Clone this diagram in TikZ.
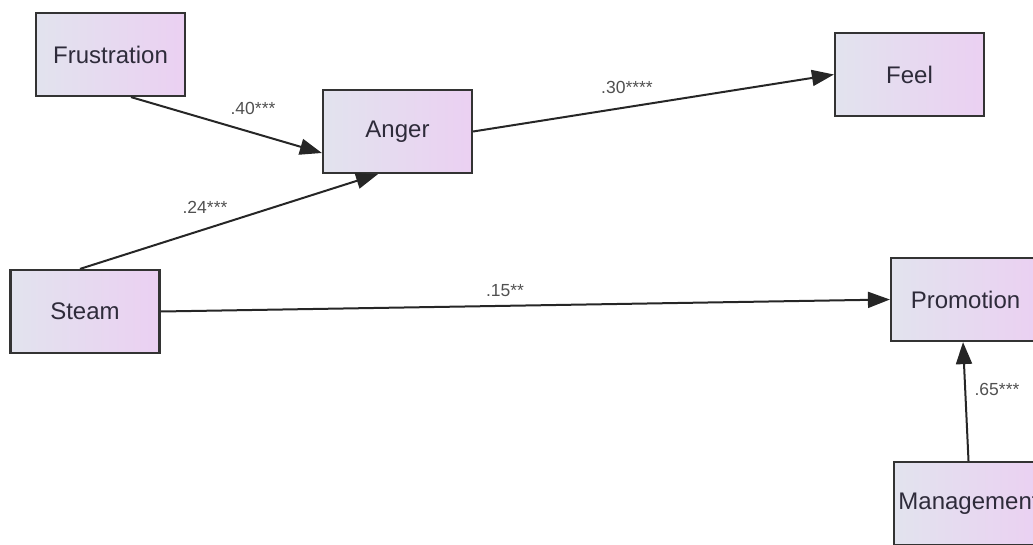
\documentclass[tikz,border=0pt]{standalone}
\usepackage{fontspec}
\setmainfont{Liberation Sans}
\usetikzlibrary{arrows.meta}
\definecolor{boxL}{HTML}{E2E3EE}
\definecolor{boxR}{HTML}{EBD0F2}
\definecolor{edgec}{HTML}{333333}
\definecolor{txt}{HTML}{2E2B3A}
\definecolor{lab}{HTML}{505050}
\tikzset{
  var/.style={rectangle, draw=edgec, line width=2.2pt, left color=boxL, right color=boxR,
    minimum width=149pt, minimum height=83pt, inner sep=0pt, text=txt,
    font=\fontsize{24}{28}\selectfont},
  path/.style={draw=black!85, line width=2pt, -{Triangle[length=22pt,width=16pt]}},
  coef/.style={text=lab, font=\fontsize{17.5}{20}\selectfont, inner sep=0pt}
}
\begin{document}
\begin{tikzpicture}[x=1pt,y=-1pt]
\useasboundingbox (0,0) rectangle (1033,544);
\clip (0,0) rectangle (1033,544);
\node[var] (fr) at (110.5,54.5) {Frustration};
\node[var] (an) at (397.5,131.5) {Anger};
\node[var] (fe) at (909.5,74.5) {Feel};
\node[var] (st) at (85,311.5) {Steam};
\node[var] (pr) at (965.5,299.5) {Promotion};
\node[var] (ma) at (968.5,503.5) {Management};
\draw[path] ([xshift=20.5pt]fr.south) -- ([yshift=-21.5pt]an.west);
\draw[path] ([xshift=-5pt]st.north) -- ([xshift=-19.5pt]an.south);
\draw[path] (an.east) -- (fe.west);
\draw[path] (st.east) -- (pr.west);
\draw[path] (ma.north) -- ([xshift=-2.5pt]pr.south);
\node[coef] (l1) at (253,108) {.40***};
\node[coef] (l2) at (205,207) {.24***};
\node[coef] (l3) at (627,87) {.30****};
\node[coef] (l4) at (505,291) {.15**};
\node[coef] (l5) at (997,389) {.65***};
\end{tikzpicture}
\end{document}
